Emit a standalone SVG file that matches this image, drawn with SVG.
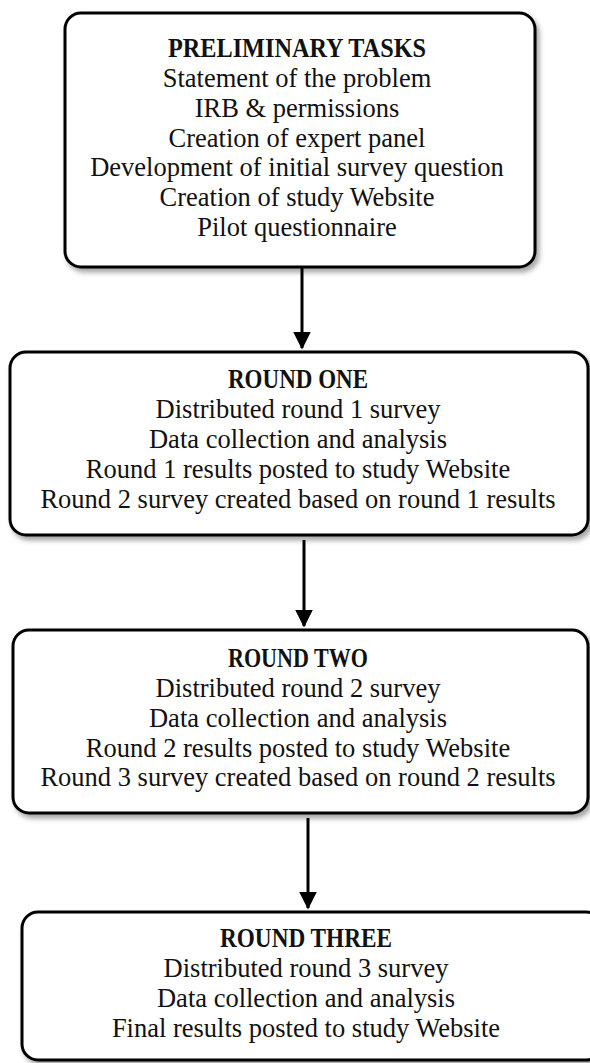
<svg xmlns="http://www.w3.org/2000/svg" width="590" height="1063" viewBox="0 0 590 1063">
<defs>
<filter id="sh" x="-5%" y="-5%" width="115%" height="120%">
<feDropShadow dx="3" dy="4" stdDeviation="2.5" flood-color="#000" flood-opacity="0.35"/>
</filter>
<marker id="ah" markerWidth="6" markerHeight="6" refX="5.5" refY="3" orient="auto" markerUnits="strokeWidth">
<path d="M0,0 L6,3 L0,6 Z" fill="#000"/>
</marker>
<style>
.box{fill:#fff;stroke:#000;stroke-width:3;filter:url(#sh)}
.t{font-family:"Liberation Serif","Times New Roman",serif;font-size:26.5px;fill:#111;text-anchor:middle}
.b{font-weight:bold}
.c{stroke:#000;stroke-width:3;fill:none;marker-end:url(#ah)}
</style>
</defs>
<rect width="590" height="1063" fill="#fff"/>
<g id="connectors">
<line class="c" x1="302" y1="267" x2="302" y2="348"/>
<line class="c" x1="304" y1="540" x2="304" y2="626"/>
<line class="c" x1="308" y1="818" x2="308" y2="908"/>
</g>
<g id="preliminary">
<rect class="box" x="65" y="13" width="470" height="254" rx="16"/>
<text class="t b" x="297" y="57" textLength="258" lengthAdjust="spacingAndGlyphs">PRELIMINARY TASKS</text>
<text class="t" x="297" y="87">Statement of the problem</text>
<text class="t" x="297" y="117">IRB &amp; permissions</text>
<text class="t" x="297" y="147">Creation of expert panel</text>
<text class="t" x="297" y="176">Development of initial survey question</text>
<text class="t" x="297" y="206">Creation of study Website</text>
<text class="t" x="297" y="236">Pilot questionnaire</text>
</g>
<g id="round1">
<rect class="box" x="10" y="352" width="578" height="183" rx="16"/>
<text class="t b" x="298" y="388" textLength="140" lengthAdjust="spacingAndGlyphs">ROUND ONE</text>
<text class="t" x="298" y="418">Distributed round 1 survey</text>
<text class="t" x="298" y="448">Data collection and analysis</text>
<text class="t" x="298" y="478">Round 1 results posted to study Website</text>
<text class="t" x="298" y="508">Round 2 survey created based on round 1 results</text>
</g>
<g id="round2">
<rect class="box" x="13" y="630" width="575" height="183" rx="16"/>
<text class="t b" x="298" y="667" textLength="140" lengthAdjust="spacingAndGlyphs">ROUND TWO</text>
<text class="t" x="298" y="697">Distributed round 2 survey</text>
<text class="t" x="298" y="727">Data collection and analysis</text>
<text class="t" x="298" y="757">Round 2 results posted to study Website</text>
<text class="t" x="298" y="786">Round 3 survey created based on round 2 results</text>
</g>
<g id="round3">
<rect class="box" x="22" y="912" width="580" height="148" rx="16"/>
<text class="t b" x="306" y="947" textLength="172" lengthAdjust="spacingAndGlyphs">ROUND THREE</text>
<text class="t" x="306" y="977">Distributed round 3 survey</text>
<text class="t" x="306" y="1007">Data collection and analysis</text>
<text class="t" x="306" y="1037">Final results posted to study Website</text>
</g>
</svg>
